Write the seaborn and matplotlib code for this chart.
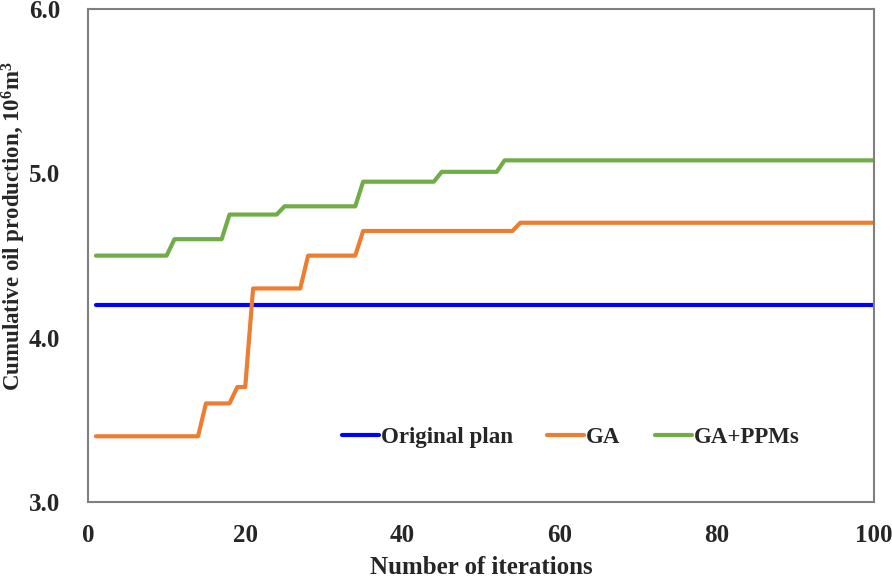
import numpy as np
import pandas as pd
import matplotlib
matplotlib.use("Agg")
import matplotlib.pyplot as plt
import seaborn as sns

# iterations 1..100
iterations = np.arange(1, 101)

# step values: (first iteration of step, value)
original_value = 4.2
ga_starts = [1, 15, 19, 21, 28, 35, 55]
ga_values = [3.4, 3.6, 3.7, 4.3, 4.5, 4.65, 4.7]
ppm_starts = [1, 11, 18, 25, 35, 45, 53]
ppm_values = [4.5, 4.6, 4.75, 4.8, 4.95, 5.01, 5.08]


def expand(starts, values, n=100):
    lengths = np.diff(starts + [n + 1])
    return np.repeat(values, lengths)


df = pd.concat([
    pd.DataFrame({"iter": iterations, "value": original_value, "series": "Original plan"}),
    pd.DataFrame({"iter": iterations, "value": expand(ga_starts, ga_values), "series": "GA"}),
    pd.DataFrame({"iter": iterations, "value": expand(ppm_starts, ppm_values), "series": "GA+PPMs"}),
])

sns.set_style("white")
plt.rcParams['font.family'] = ['Liberation Serif', 'DejaVu Serif']
plt.rcParams['font.weight'] = 'bold'
plt.rcParams['mathtext.fontset'] = 'custom'
plt.rcParams['mathtext.rm'] = 'Liberation Serif:bold'
plt.rcParams['mathtext.bf'] = 'Liberation Serif:bold'
plt.rcParams['mathtext.default'] = 'bf'

fig = plt.figure(figsize=(8.92, 5.77), dpi=100)
ax = fig.add_axes([0.0987, 0.130, 0.8811, 0.854])

palette = {"Original plan": "#0000FF", "GA": "#ED7D31", "GA+PPMs": "#70AD47"}
sns.lineplot(data=df, x="iter", y="value", hue="series", palette=palette,
             linewidth=3, ax=ax)

ax.set_xlim(0, 100)
ax.set_ylim(3.0, 6.0)
ax.set_xticks([0, 20, 40, 60, 80, 100])
ax.set_yticks([3.0, 4.0, 5.0, 6.0])
ax.set_yticklabels(["3.0", "4.0", "5.0", "6.0"])
ax.tick_params(direction="in", length=5, color="#7f7f7f", labelsize=18)
ax.tick_params(axis="x", pad=16)
ax.tick_params(axis="y", pad=20)
for lab in ax.get_xticklabels() + ax.get_yticklabels():
    lab.set_fontweight("bold")
for sp in ax.spines.values():
    sp.set_color("#7f7f7f")
    sp.set_linewidth(1.5)

ax.set_xlabel("Number of iterations", fontsize=18, fontweight="bold", labelpad=6)
ax.set_ylabel(r"Cumulative oil production, 10$^{6}$m$^{3}$",
              fontsize=16.5, fontweight="bold")
ax.yaxis.set_label_coords(-0.077, 0.56)

leg = ax.legend(loc="center right", bbox_to_anchor=(0.92, 0.13), ncol=3, frameon=False,
                handlelength=1.6, handletextpad=0.1, columnspacing=1.5, borderpad=0,
                prop={"weight": "bold", "size": 16.5})

fig.savefig("out.png", dpi=100)
